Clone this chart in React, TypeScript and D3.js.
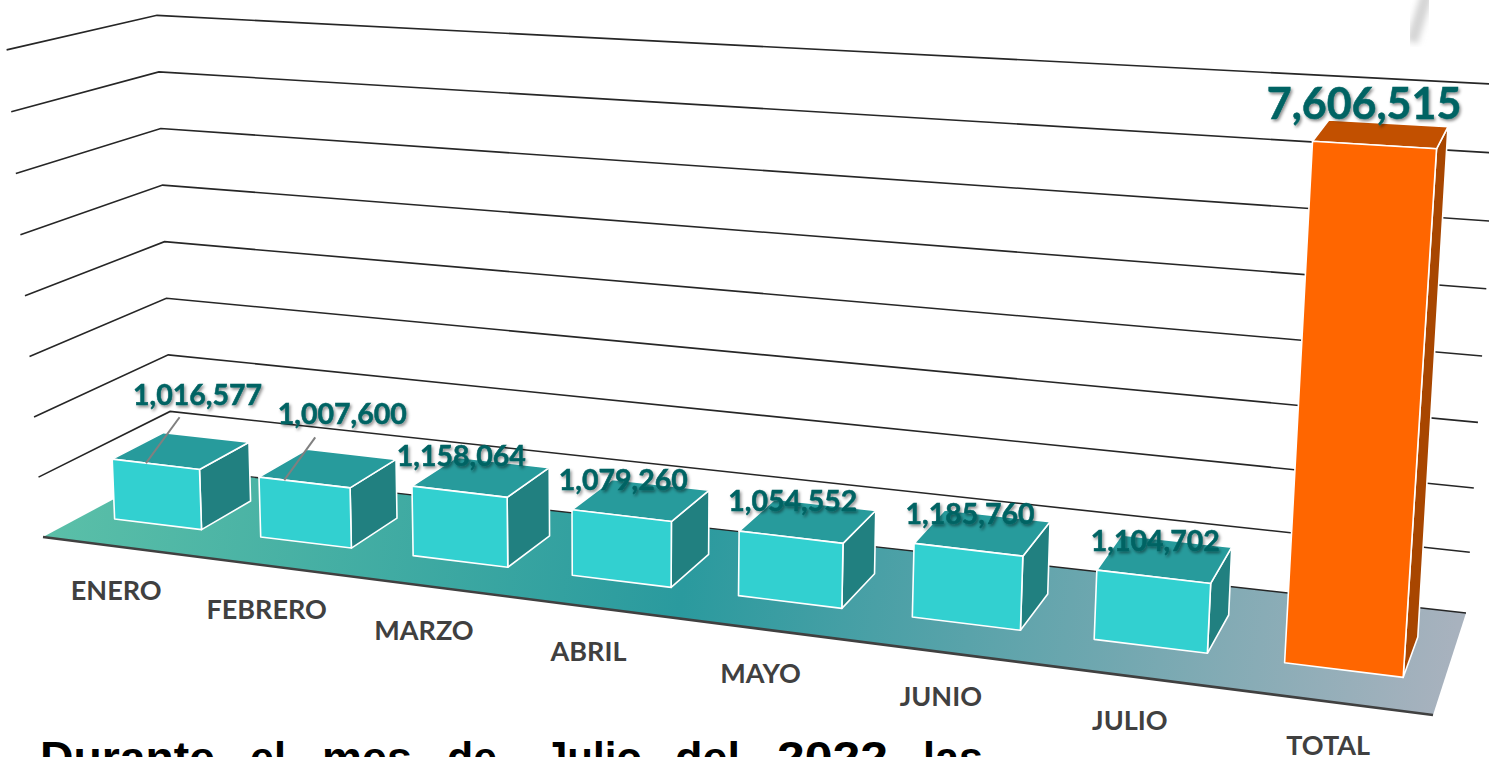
import { useEffect, useRef } from "react";
import * as d3 from "d3";

const categories = ["ENERO", "FEBRERO", "MARZO", "ABRIL", "MAYO", "JUNIO", "JULIO", "TOTAL"];
const values = [1016577, 1007600, 1158064, 1079260, 1054552, 1185760, 1104702, 7606515];
const axisTicks = [0, 1, 2, 3, 4, 5, 6, 7, 8].map(m => m * 1000000);
const captionWords = ["Durante", "el", "mes", "de", "Julio", "del", "2022", "las"];

const width = 1489, height = 757;

// caption is justified in the original, each word gets [x, width]
const captionBoxes = [[40, 175], [250, 36], [322, 90], [447, 50], [544, 98], [675, 65], [777, 111], [923, 60]];

// floor corners on screen: front-left, front-right, back-right, back-left
const [x0, y0] = [43, 537], [x1, y1] = [1433, 715], [x2, y2] = [1466, 613], [x3, y3] = [172, 468];

// unit square -> floor quad
const dx1 = x1 - x2, dy1 = y1 - y2, dx2 = x3 - x2, dy2 = y3 - y2;
const sx = x0 - x1 + x2 - x3, sy = y0 - y1 + y2 - y3;
const den = dx1 * dy2 - dx2 * dy1;
const g = (sx * dy2 - dx2 * sy) / den;
const h = (dx1 * sy - sx * dy1) / den;

const axisMax = axisTicks[axisTicks.length - 1];
const valueScale = d3.scaleLinear().domain([0, axisMax]).range([0, 1]);

// px per unit of value grows toward the viewer, verticals splay out from x=620
function project(uRaw: number, d: number, v: number): [number, number] {
    const u = uRaw + 0.052 * uRaw * (1 - uRaw);
    const w = 1 + g * u + h * d;
    const bx = ((x1 - x0 + g * x1) * u + (x3 - x0 + h * x3) * d + x0) / w;
    const by = ((y1 - y0 + g * y1) * u + (y3 - y0 + h * y3) * d + y0) / w;
    const frac = valueScale(v);
    const lift = 8 * (17.4 + 42.3 / w) * Math.pow(frac, 1 + 0.04 * u) * (1 + 0.02 * Math.pow(1 - d, 2.5) * frac);
    const lean = (bx - 620) * 7.4e-5 * (1 + 0.75 * Math.pow(1 - d, 6));
    return [bx + lift * lean, by - lift];
}

const uScale = d3.scaleBand<string>().domain(categories).range([0.027, 0.975]).paddingInner(0.4).paddingOuter(0);
const depthFront = 0.3, depthBack = 0.7;

const fmt = d3.format(",");
const line = d3.line();

// labels that were moved away from their bars, with leader lines
const labelNudge: Record<string, { dx: number, dy: number, from: [number, number], at: number }> = {
    ENERO: { dx: 40, dy: -33, from: [-18, 12], at: 0.39 },
    FEBRERO: { dx: 36, dy: -32, from: [-27, 13], at: 0.28 }
};

const palette = {
    normal: { front: "#32D0D0", top: "#279B9C", side: "#218080" },
    total: { front: "#FF6600", top: "#C25000", side: "#A84600" }
};

export default function App() {
    const svgRef = useRef<SVGSVGElement>(null);

    useEffect(() => {
        const svg = d3.select(svgRef.current);
        svg.selectAll("*").remove();

        const defs = svg.append("defs");
        const grad = defs.append("linearGradient").attr("id", "floor").attr("gradientUnits", "userSpaceOnUse")
            .attr("x1", 60).attr("y1", 480).attr("x2", 1450).attr("y2", 680);
        [[0, "#5ABFA8"], [0.45, "#2A9A9E"], [1, "#A8B2BE"]].forEach(([o, c]) => {
            grad.append("stop").attr("offset", o).attr("stop-color", c);
        });
        const shadow = defs.append("filter").attr("id", "txt").attr("x", "-10%").attr("y", "-20%").attr("width", "120%").attr("height", "150%");
        shadow.append("feDropShadow").attr("dx", 1.5).attr("dy", 2).attr("stdDeviation", 1.4)
            .attr("flood-color", "#000").attr("flood-opacity", 0.45);
        const blur = defs.append("filter").attr("id", "smudge");
        blur.append("feGaussianBlur").attr("stdDeviation", 3);

        // wall gridlines
        svg.append("g").selectAll("path").data(axisTicks.filter(t => t > 0)).enter().append("path")
            .attr("d", t => line([project(0, 0, t), project(0, 1, t), project(1, 1, t)]))
            .attr("fill", "none").attr("stroke", "#262626").attr("stroke-width", 1.6);

        // floor
        const floorPts = [project(0, 0, 0), project(1, 0, 0), project(1, 1, 0), project(0, 1, 0)];
        svg.append("path").attr("d", line(floorPts) + "Z").attr("fill", "url(#floor)");
        svg.append("path").attr("d", line([project(0, 1, 0), project(1, 1, 0)]))
            .attr("fill", "none").attr("stroke", "#262626").attr("stroke-width", 1.4);
        svg.append("path").attr("d", line([project(0, 0, 0), project(1, 0, 0)]))
            .attr("fill", "none").attr("stroke", "#404040").attr("stroke-width", 2.6);

        // bars
        const bars = svg.append("g").selectAll("g").data(categories).enter().append("g");
        const face = (cat: string, i: number, kind: "front" | "top" | "side") => {
            const a = uScale(cat)!, b = a + uScale.bandwidth(), v = values[i];
            const f = depthFront, k = depthBack;
            if (kind === "front") return [project(a, f, 0), project(b, f, 0), project(b, f, v), project(a, f, v)];
            if (kind === "side") return [project(b, f, 0), project(b, k, 0), project(b, k, v), project(b, f, v)];
            return [project(a, f, v), project(b, f, v), project(b, k, v), project(a, k, v)];
        };
        (["side", "top", "front"] as const).forEach(kind => {
            bars.append("path")
                .attr("d", (c, i) => line(face(c, i, kind)) + "Z")
                .attr("fill", (c, i) => (c === "TOTAL" ? palette.total : palette.normal)[kind])
                .attr("stroke", "#fff").attr("stroke-width", 1.6).attr("stroke-linejoin", "round");
        });

        // labels sit above the front top edge of the bar
        const labelPos = (c: string, i: number): [number, number] => {
            const mid = uScale(c)! + uScale.bandwidth() / 2;
            const p = project(mid, depthFront, values[i]);
            const n = labelNudge[c];
            return [p[0] + (n ? n.dx : 0) + (c === "TOTAL" ? -10 : 2), p[1] - 26 + (n ? n.dy : 0)];
        };

        // leader lines
        svg.append("g").selectAll("path").data(categories.filter(c => labelNudge[c])).enter().append("path")
            .attr("d", c => {
                const i = categories.indexOf(c), n = labelNudge[c];
                const [lx, ly] = labelPos(c, i);
                const end = uScale(c)! + uScale.bandwidth() * n.at;
                return line([[lx + n.from[0], ly + n.from[1]], project(end, depthFront, values[i])]);
            })
            .attr("stroke", "#808080").attr("stroke-width", 2).attr("fill", "none");

        // data labels
        svg.append("g").selectAll("text").data(categories).enter().append("text")
            .attr("x", (c, i) => labelPos(c, i)[0])
            .attr("y", (c, i) => labelPos(c, i)[1])
            .attr("text-anchor", "middle")
            .attr("font-family", "Lato")
            .attr("font-weight", 700)
            .attr("font-size", c => c === "TOTAL" ? 43 : 28.5)
            .attr("fill", "#006464")
            .attr("stroke", "#006464")
            .attr("stroke-width", 0.5)
            .attr("filter", "url(#txt)")
            .text((c, i) => fmt(values[i]));

        // category labels
        svg.append("g").selectAll("text").data(categories).enter().append("text")
            .attr("x", c => project(uScale(c)! + uScale.bandwidth() / 2, 0, 0)[0] - 2)
            .attr("y", c => project(uScale(c)! + uScale.bandwidth() / 2, 0, 0)[1] + 53.5)
            .attr("text-anchor", "middle")
            .attr("font-family", "Lato")
            .attr("font-weight", 700)
            .attr("font-size", 27)
            .attr("fill", "#404040")
            .text(c => c);

        // caption, cut by the bottom of the picture
        svg.append("g").selectAll("text").data(captionWords).enter().append("text")
            .attr("x", (w, i) => captionBoxes[i][0])
            .attr("y", 773)
            .attr("textLength", (w, i) => captionBoxes[i][1])
            .attr("lengthAdjust", "spacingAndGlyphs")
            .attr("font-family", "Liberation Sans")
            .attr("font-weight", 700)
            .attr("font-size", 45)
            .attr("fill", "#000")
            .text(w => w);

        // smudge in the top right corner
        svg.append("path").attr("d", line([[1427, -6], [1412, 42]]))
            .attr("stroke", "#d4d4d4").attr("stroke-width", 12).attr("filter", "url(#smudge)");
    }, []);

    return (
        <svg ref={svgRef} width={width} height={height} viewBox={`0 0 ${width} ${height}`}
            style={{ position: "fixed", left: 0, top: 0, background: "#fff" }} />
    );
}
